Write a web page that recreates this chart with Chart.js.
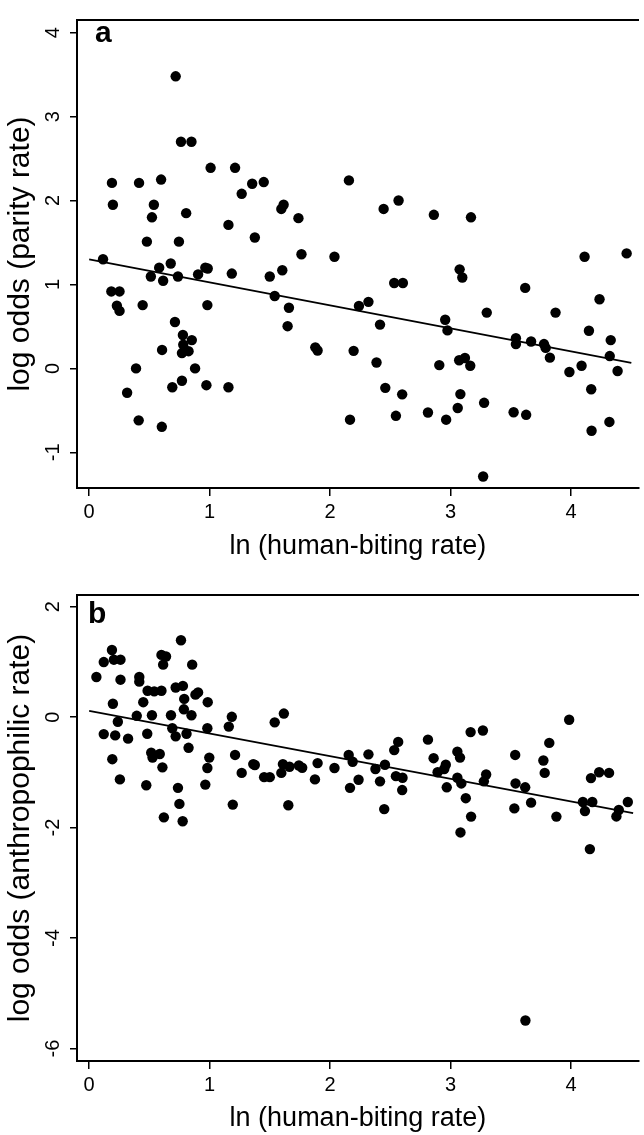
<!DOCTYPE html>
<html><head><meta charset="utf-8">
<script src="https://cdn.jsdelivr.net/npm/chart.js@4.4.1/dist/chart.umd.min.js"></script>
<style>
html,body{margin:0;padding:0;background:#fff;width:644px;height:1135px;overflow:hidden;}
canvas{position:absolute;left:0;}
#ca{top:0}
#cb{top:575px}
.lab{position:absolute;font:bold 30px 'Liberation Sans',Arial,sans-serif;line-height:30px;color:#000}
</style></head><body>
<canvas id="ca" width="644" height="575"></canvas>
<canvas id="cb" width="644" height="560"></canvas>
<div class="lab" style="left:95px;top:17px">a</div>
<div class="lab" style="left:88px;top:598px">b</div>
<script>
// ---- tick labels ----
const xTickValues = [0, 1, 2, 3, 4];
const yTicksA = [-1, 0, 1, 2, 3, 4];
const yTicksB = [-6, -4, -2, 0, 2];

// ---- panel a: ln(human-biting rate) vs log odds (parity rate) ----
const parityX = [
 0.718,0.762,0.849,1.008,1.211,0.189,0.414,0.597,1.353,1.449,1.266,0.197,0.537,1.595,1.614,0.521,0.805,1.737,1.156,0.479,0.745,1.375,1.762,
 0.115,0.581,0.677,0.512,0.614,0.737,0.904,0.964,0.984,1.184,1.499,1.603,1.540,1.658,1.647,1.877,1.896,0.184,0.252,0.230,0.252,0.444,0.981,0.712,0.778,0.781,0.852,0.770,0.825,0.605,0.389,0.879,0.315,0.690,0.770,0.973,1.156,0.411,0.603,
 2.156,2.444,2.568,2.861,3.169,2.036,4.112,4.461,
 3.075,3.097,2.532,2.604,3.619,4.236,2.239,2.318,2.414,3.300,3.871,2.955,2.974,4.148,3.542,3.542,3.668,3.775,3.789,4.329,4.321,3.824,2.195,2.385,2.906,3.071,3.119,3.163,3.986,4.087,4.386,2.458,2.598,3.081,4.167,3.059,3.278,2.165,2.546,2.812,2.963,3.523,3.627,4.170,4.318,3.270
];
const parityY = [
 3.48,2.70,2.70,2.39,2.39,2.21,2.21,2.25,2.20,2.22,2.08,1.95,1.95,1.90,1.95,1.80,1.85,1.79,1.71,1.51,1.51,1.56,1.36,
 1.30,1.20,1.25,1.095,1.044,1.095,1.12,1.20,1.19,1.13,1.095,1.17,0.863,0.723,0.503,0.251,0.213,0.917,0.917,0.747,0.685,0.754,0.754,0.553,0.398,0.282,0.337,0.182,0.205,0.22,0.0,0.0,-0.29,-0.224,-0.147,-0.20,-0.224,-0.619,-0.696,
 2.24,1.90,2.00,1.83,1.80,1.33,1.33,1.37,
 1.18,1.083,1.017,1.017,0.959,0.824,0.743,0.793,0.522,0.665,0.665,0.580,0.453,0.449,0.360,0.29,0.321,0.29,0.244,0.337,0.147,0.128,0.209,0.07,0.039,0.097,0.124,0.031,-0.043,0.031,-0.031,-0.232,-0.309,-0.306,-0.248,-0.472,-0.410,-0.611,-0.565,-0.526,-0.611,-0.522,-0.553,-0.743,-0.638,-1.288
];
const parityFitX = [0, 4.5];
const parityFitY = [1.30, 0.067];

// ---- panel b: ln(human-biting rate) vs log odds (anthropophilic rate) ----
const anthroX = [
 0.060,0.121,0.189,0.205,0.260,0.260,0.197,0.121,0.238,0.216,0.323,0.192,0.255,0.416,0.416,0.449,0.395,0.482,0.485,0.540,0.600,0.521,0.515,0.526,0.586,0.608,0.474,0.600,0.638,0.614,0.679,0.690,0.718,
 0.718,0.778,0.789,0.786,0.849,0.762,0.855,0.904,0.882,0.984,0.808,0.825,0.981,0.997,0.981,0.737,0.964,1.184,1.159,1.211,1.266,1.362,1.375,1.452,1.499,1.540,1.616,1.595,1.608,1.663,1.741,1.768,1.896,1.874,
 0.749,0.620,0.776,1.192,1.653,2.449,3.126,3.170,3.082,3.529,3.668,3.878,4.098,4.176,4.115,4.156,4.376,4.396,4.471,3.621,2.165,2.598,2.968,
 3.984,3.166,3.268,3.819,2.565,2.532,2.812,3.056,3.078,3.536,3.770,3.781,2.154,2.187,2.318,2.376,2.455,2.859,2.960,2.947,2.892,2.036,2.236,2.414,2.546,2.601,3.056,3.089,3.276,3.295,4.165,4.233,4.315,3.539,3.619
];
const anthroY = [
 0.726,0.997,1.215,1.04,1.04,0.678,0.242,-0.307,-0.083,-0.33,-0.389,-0.761,-1.127,0.726,0.643,0.271,0.024,-0.301,0.478,0.466,0.478,0.035,-0.643,-0.732,-0.667,-0.909,-1.233,1.127,1.097,0.95,0.035,-0.2,-0.348,
 0.537,0.566,0.330,0.142,0.035,1.392,0.95,0.448,0.407,0.271,-0.301,-0.555,-0.2,-0.732,-0.92,-1.28,-1.221,0.006,-0.171,-0.684,-1.009,-0.85,-0.867,-1.086,-1.086,-0.094,0.065,-1.009,-0.85,-0.897,-0.875,-0.915,-0.832,-1.127,
 -1.57,-1.814,-1.884,-1.583,-1.594,-1.664,-1.467,-1.80,-2.087,-1.652,-1.548,-1.80,-1.536,-1.536,-1.70,-2.388,-1.797,-1.681,-1.536,-5.49,-1.28,-1.32,-1.27,
 -0.047,-0.271,-0.242,-0.466,-0.448,-0.596,-0.407,-0.625,-0.732,-0.684,-0.785,-1.009,-0.684,-0.808,-0.673,-0.938,-0.861,-0.743,-0.861,-0.938,-0.997,-0.920,-1.133,-1.162,-1.068,-1.097,-1.097,-1.20,-1.162,-1.038,-1.103,-0.997,-1.009,-1.20,-1.27
];
const anthroFitX = [0, 4.515];
const anthroFitY = [0.115, -1.739];

const FONT = "'Liberation Sans', Arial, sans-serif";
Chart.defaults.font.family = FONT;
Chart.defaults.color = '#000';

function pts(xs, ys){ return xs.map((x,i)=>({x:x, y:ys[i]})); }

function makeChart(id, cfg){
  const X_MIN = -0.101, X_MAX = 4.562;
  return new Chart(document.getElementById(id), {
    type: 'scatter',
    data: { datasets: [
      { data: pts(cfg.xs, cfg.ys), pointRadius: 5.2, pointBackgroundColor: '#000', pointBorderWidth: 0, showLine: false, xAxisID:'x', yAxisID:'y' },
      { type: 'line', data: pts(cfg.fx, cfg.fy), borderColor: '#000', borderWidth: 1.8, pointRadius: 0, fill: false, tension: 0, showLine: true, xAxisID:'x', yAxisID:'y' }
    ]},
    options: {
      responsive: false, animation: false, devicePixelRatio: 1,
      layout: { padding: { top: 7, left: 0, right: 0, bottom: 0 } },
      plugins: { legend: { display: false }, tooltip: { enabled: false } },
      scales: {
        x: {
          type: 'linear', position: 'bottom', min: X_MIN, max: X_MAX,
          afterBuildTicks: s => { s.ticks = xTickValues.map(v => ({value: v})); },
          afterFit: s => { s.height = cfg.xAxisH; },
          grid: { display: true, drawOnChartArea: false, drawTicks: true, tickLength: 8, color: '#000', lineWidth: 1.5 },
          border: { display: true, color: '#000', width: 2 },
          ticks: { color: '#000', font: { size: 20 }, padding: 4, maxRotation: 0, autoSkip: false },
          title: { display: true, text: 'ln (human-biting rate)', color: '#000', font: { size: 27 }, padding: { top: 0, bottom: cfg.titlePadB } }
        },
        xTop: {
          type: 'linear', position: 'top', min: X_MIN, max: X_MAX, display: true,
          ticks: { display: false }, grid: { display: false, drawTicks: false },
          border: { display: true, color: '#000', width: 2 },
          afterFit: s => { s.height = 0; }
        },
        y: {
          type: 'linear', position: 'left', min: cfg.yMin, max: cfg.yMax,
          afterBuildTicks: s => { s.ticks = cfg.yTicks.map(v => ({value: v})); },
          afterFit: s => { s.width = 77; },
          grid: { display: true, drawOnChartArea: false, drawTicks: true, tickLength: 7, color: '#000', lineWidth: 1.5 },
          border: { display: true, color: '#000', width: 2 },
          ticks: { color: '#000', font: { size: 20 }, padding: 8, minRotation: 90, maxRotation: 90, crossAlign: 'center', autoSkip: false },
          title: { display: true, text: cfg.yTitle, color: '#000', font: { size: 30 }, padding: { top: 3, bottom: 0 } }
        }
      }
    }
  });
}

makeChart('ca', { xs: parityX, ys: parityY, fx: parityFitX, fy: parityFitY,
  yMin: -1.425, yMax: 4.151, yTicks: yTicksA, yTitle: 'log odds (parity rate)', xAxisH: 87, titlePadB: 12 });
makeChart('cb', { xs: anthroX, ys: anthroY, fx: anthroFitX, fy: anthroFitY,
  yMin: -6.224, yMax: 2.211, yTicks: yTicksB, yTitle: 'log odds (anthropophilic rate)', xAxisH: 74, titlePadB: 0 });
</script>
</body></html>
